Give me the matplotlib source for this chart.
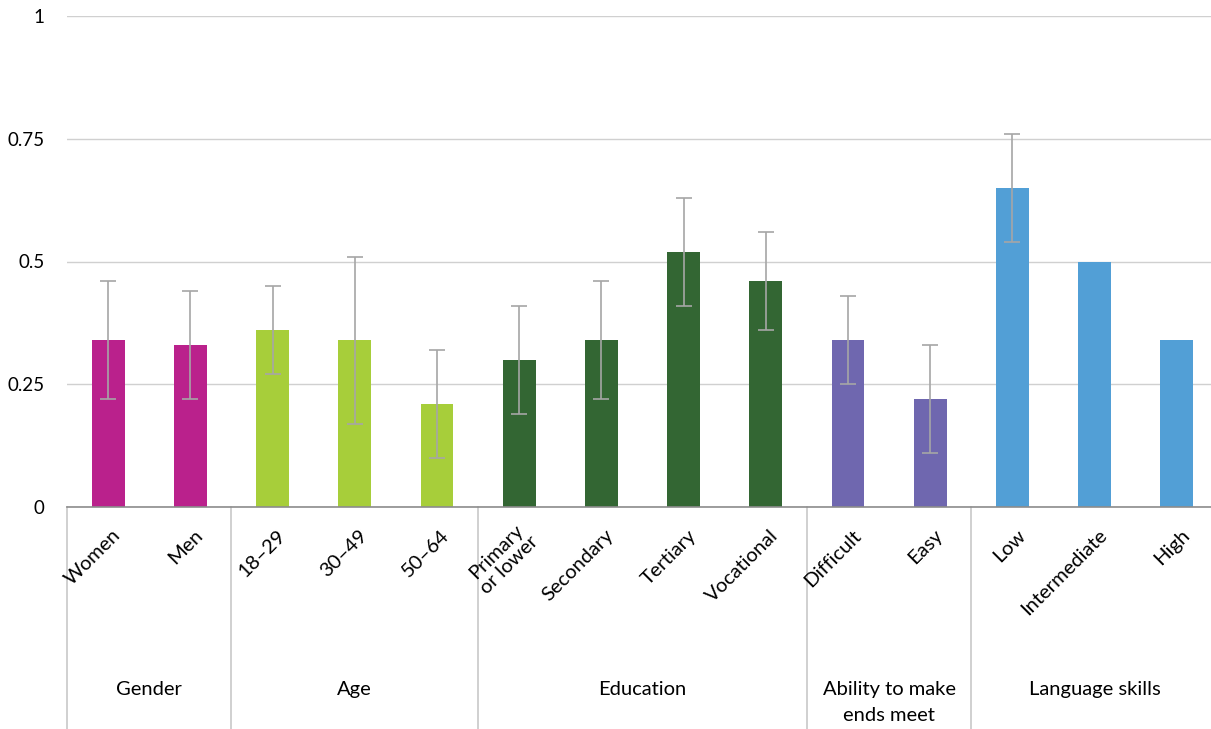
import matplotlib.pyplot as plt
import matplotlib.transforms as mtransforms
import numpy as np

plt.rcParams['font.family'] = ['Lato', 'DejaVu Sans']

# data
labels = ["Women", "Men", "18–29", "30–49", "50–64",
          "Primary\nor lower", "Secondary", "Tertiary", "Vocational",
          "Difficult", "Easy", "Low", "Intermediate", "High"]
values = [0.34, 0.33, 0.36, 0.34, 0.21, 0.30, 0.34, 0.52, 0.46, 0.34, 0.22, 0.65, 0.50, 0.34]
err_low = [0.22, 0.22, 0.27, 0.17, 0.10, 0.19, 0.22, 0.41, 0.36, 0.25, 0.11, 0.54, np.nan, np.nan]
err_high = [0.46, 0.44, 0.45, 0.51, 0.32, 0.41, 0.46, 0.63, 0.56, 0.43, 0.33, 0.76, np.nan, np.nan]
groups = ["Gender", "Age", "Education", "Ability to make\nends meet", "Language skills"]
group_sizes = [2, 3, 4, 2, 3]
group_colors = ["#BA218C", "#A7CE3A", "#336633", "#6F67AF", "#529FD6"]

colors = []
for c, n in zip(group_colors, group_sizes):
    colors += [c] * n

x = np.arange(len(labels))
vals = np.array(values)
lo = np.array(err_low)
hi = np.array(err_high)

fig = plt.figure(figsize=(12.11, 7.29), dpi=100)
ax = fig.add_axes([67 / 1211, (729 - 507) / 729, 1151 / 1211, 491 / 729])

ax.bar(x, vals, width=0.4, color=colors, zorder=2)
has_err = ~np.isnan(lo)
ax.errorbar(x[has_err], vals[has_err],
            yerr=[vals[has_err] - lo[has_err], hi[has_err] - vals[has_err]],
            fmt="none", ecolor="#a6a6a6", elinewidth=1.2, capsize=6, capthick=1.2, zorder=3)

ax.set_xlim(-0.5, len(labels) - 0.5)
ax.set_ylim(0, 1)
ax.set_yticks([0, 0.25, 0.5, 0.75, 1])
ax.set_yticklabels(["0", "0.25", "0.5", "0.75", "1"], fontsize=13.5)
ax.tick_params(axis="y", length=0, pad=16)
ax.grid(axis="y", color="#d0d0d0", linewidth=1)
ax.set_axisbelow(True)
for s in ["left", "right", "top"]:
    ax.spines[s].set_visible(False)
ax.spines["bottom"].set_color("#8c8c8c")
ax.spines["bottom"].set_linewidth(1.2)
ax.spines["bottom"].set_zorder(4)

ax.set_xticks(x)
ax.set_xticklabels([])
ax.tick_params(axis="x", length=0)

trans = mtransforms.blended_transform_factory(ax.transData, ax.transAxes)
for xi, lab in zip(x, labels):
    ax.text(xi + 0.12, -0.052, lab, transform=trans, rotation=45, rotation_mode="anchor",
            ha="right", va="center", fontsize=14.5, multialignment="center",
            linespacing=1.15)

# group separators and labels
bounds = [-0.5]
for n in group_sizes:
    bounds.append(bounds[-1] + n)
for b in bounds[:-1]:
    ax.plot([b, b], [0, -0.46], transform=trans, color="#c8c8c8", linewidth=1.2, clip_on=False)
for g, a, b in zip(groups, bounds[:-1], bounds[1:]):
    ax.text((a + b) / 2, -0.355, g, transform=trans, ha="center", va="top", fontsize=14.5,
            linespacing=1.6)

fig.savefig("out.png", dpi=100)
